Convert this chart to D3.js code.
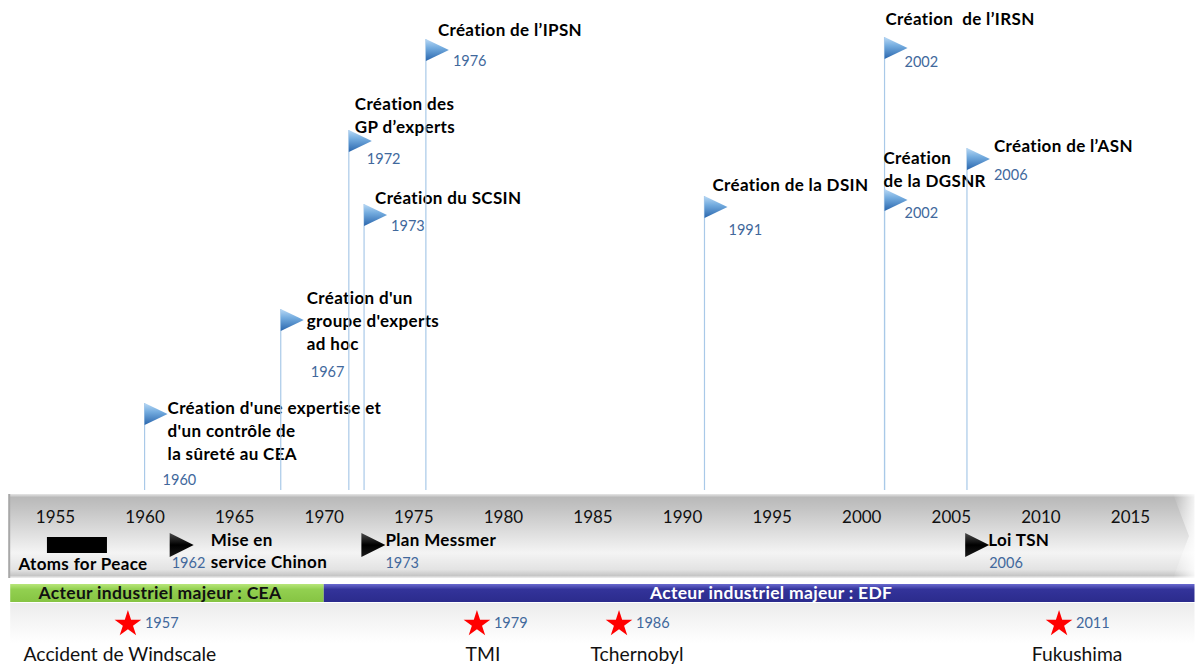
<!DOCTYPE html>
<html>
<head>
<meta charset="utf-8">
<script src="https://cdn.jsdelivr.net/npm/d3@7"></script>
<style>
body { margin: 0; background: #fff; }
text { font-family: Lato, "Open Sans", sans-serif; }
.lbl { font-size: 17px; font-weight: bold; letter-spacing: 0.35px; fill: #000; white-space: pre; }
.yr { font-size: 14.5px; fill: #41689c; }
</style>
</head>
<body>
<div id="chart"></div>
<script>
// ---- data ----
var tickYears = [1955, 1960, 1965, 1970, 1975, 1980, 1985, 1990, 1995, 2000, 2005, 2010, 2015];

// regulatory milestones (blue flags above the timeline)
var flagLabels = [
    ["Création d'une expertise et", "d'un contrôle de", "la sûreté au CEA"],
    ["Création d'un", "groupe d'experts", "ad hoc"],
    ["Création des", "GP d’experts"],
    ["Création du SCSIN"],
    ["Création de l’IPSN"],
    ["Création de la DSIN"],
    ["Création  de l’IRSN"],
    ["Création", "de la DGSNR"],
    ["Création de l’ASN"]
];
var flagYears = ["1960", "1967", "1972", "1973", "1976", "1991", "2002", "2002", "2006"];
// where the pole stands on the time scale
var flagAt = [1960, 1967.6, 1971.4, 1972.25, 1975.7, 1991.25, 2001.3, 2001.3, 2005.9];

// industrial milestones (black arrows inside the bar)
var keyLabels = [["Mise en", "service Chinon"], ["Plan Messmer"], ["Loi TSN"]];
var keyYears = ["1962", "1973", "2006"];
var keyAt = [1961.4, 1972.1, 2005.8];

var peaceLabel = "Atoms for Peace";
var peaceSpan = [1954.55, 1957.9];

var periodLabels = ["Acteur industriel majeur : CEA", "Acteur industriel majeur : EDF"];
var periodSpans = [[1952.5, 1970], [1970, 2018.6]];

var accidentLabels = ["Accident de Windscale", "TMI", "Tchernobyl", "Fukushima"];
var accidentYears = ["1957", "1979", "1986", "2011"];
var accidentAt = [1959.07, 1978.55, 1986.48, 2011.04];

// ---- layout ----
var width = 1195;
var height = 664;
var barTop = 494, barBottom = 578;
var poleBottom = 490;
// flag top, text offset/first line, year offset/line
var flagLayout = [
    {top: 403, tdx: 23, ty: 408, ydx: 18, yy: 480},
    {top: 309, tdx: 26, ty: 298, ydx: 30, yy: 372},
    {top: 130, tdx: 6,  ty: 104, ydx: 18, yy: 159},
    {top: 204, tdx: 11, ty: 198, ydx: 27, yy: 226},
    {top: 39,  tdx: 12, ty: 30,  ydx: 27, yy: 61},
    {top: 196, tdx: 8,  ty: 185, ydx: 24, yy: 230},
    {top: 37,  tdx: 1,  ty: 19,  ydx: 20, yy: 62},
    {top: 189, tdx: -1, ty: 158, ydx: 20, yy: 213},
    {top: 148, tdx: 27, ty: 146, ydx: 27, yy: 175}
];
var keyLayout = [
    {tdx: 41, ydx: 2},
    {tdx: 24, ydx: 24},
    {tdx: 23, ydx: 24}
];
var accidentLayout = [-8, 6, 18, 18];

var x = d3.scaleLinear()
    .domain([1955, 2015])
    .range([55, 1130]);

var svg = d3.select("#chart")
    .append("svg")
    .attr("width", width)
    .attr("height", height);

var defs = svg.append("defs");

function vgrad(id, stops) {
    var g = defs.append("linearGradient")
        .attr("id", id)
        .attr("x1", 0).attr("y1", 0)
        .attr("x2", 0).attr("y2", 1);
    stops.forEach(function(s) {
        g.append("stop").attr("offset", s[0]).attr("stop-color", s[1]);
    });
}
vgrad("greyBar", [[0, "#e6e6e6"], [0.04, "#b9b9b9"], [0.2, "#c6c6c6"], [0.7, "#f4f4f4"], [0.9, "#e3e3e3"], [0.97, "#c6c6c6"], [1, "#f0f0f0"]]);
vgrad("flagFill", [[0, "#b9d9f5"], [0.4, "#74acdf"], [1, "#2a66ad"]]);
vgrad("arrowFill", [[0, "#4a4a4a"], [0.5, "#000"], [1, "#1a1a1a"]]);
vgrad("greenFill", [[0, "#b8e67a"], [0.3, "#92d050"], [1, "#86c443"]]);
vgrad("blueFill", [[0, "#6a6ad0"], [0.3, "#33339a"], [1, "#2b2b8c"]]);
vgrad("shadowFill", [[0, "#ececec"], [1, "#ffffff"]]);

var capGrad = defs.append("linearGradient")
    .attr("id", "capFill")
    .attr("x1", 0).attr("y1", 0).attr("x2", 1).attr("y2", 0);
capGrad.append("stop").attr("offset", 0).attr("stop-color", "#fff").attr("stop-opacity", 0);
capGrad.append("stop").attr("offset", 1).attr("stop-color", "#fff").attr("stop-opacity", 0.85);

// ---- flag poles ----
var flags = svg.append("g")
    .selectAll("g")
    .data(flagYears)
    .enter()
    .append("g")
    .attr("transform", function(d, i) { return "translate(" + x(flagAt[i]) + ",0)"; });

flags.append("line")
    .attr("x1", 0).attr("x2", 0)
    .attr("y1", function(d, i) { return flagLayout[i].top; })
    .attr("y2", poleBottom)
    .attr("stroke", "#a9c9e8")
    .attr("stroke-width", 1.2);

flags.append("path")
    .attr("d", function(d, i) {
        var t = flagLayout[i].top;
        return "M0," + t + "L23," + (t + 11) + "L0," + (t + 22) + "Z";
    })
    .attr("fill", "url(#flagFill)");

flags.each(function(d, i) {
    var L = flagLayout[i];
    var t = d3.select(this).append("text")
        .attr("class", "lbl");
    flagLabels[i].forEach(function(s, j) {
        t.append("tspan")
            .attr("x", L.tdx)
            .attr("y", L.ty + j * 23)
            .attr("dy", "0.35em")
            .text(s);
    });
    d3.select(this).append("text")
        .attr("class", "yr")
        .attr("x", L.ydx)
        .attr("y", L.yy)
        .attr("dy", "0.35em")
        .text(d);
});

// ---- grey time bar ----
svg.append("rect")
    .attr("x", x(periodSpans[0][0]) - 1)
    .attr("y", barTop)
    .attr("width", x(periodSpans[1][1]) - x(periodSpans[0][0]) + 1)
    .attr("height", barBottom - barTop)
    .attr("fill", "url(#greyBar)");
svg.append("rect")
    .attr("x", x(periodSpans[0][0]) - 2)
    .attr("y", barTop)
    .attr("width", 2)
    .attr("height", barBottom - barTop)
    .attr("fill", "#a8a8a8");
svg.append("path")
    .attr("d", "M" + (width - 22) + "," + barTop + "L" + width + "," + barTop + "L" + width + "," + barBottom +
        "L" + (width - 22) + "," + barBottom + "L" + (width - 6) + "," + ((barTop + barBottom) / 2) + "Z")
    .attr("fill", "url(#capFill)");

var axis = d3.axisBottom(x)
    .tickValues(tickYears)
    .tickSize(0)
    .tickFormat(d3.format("d"));

var ax = svg.append("g")
    .attr("transform", "translate(0,517)")
    .call(axis);
ax.select(".domain").remove();
ax.selectAll("text")
    .attr("y", 0)
    .attr("dy", "0.35em")
    .attr("font-size", "17px")
    .attr("font-family", "Lato, sans-serif")
    .attr("fill", "#111");

// atoms for peace
svg.append("rect")
    .attr("x", x(peaceSpan[0]))
    .attr("y", 537)
    .attr("width", x(peaceSpan[1]) - x(peaceSpan[0]))
    .attr("height", 16)
    .attr("fill", "#000");
svg.append("text")
    .attr("class", "lbl")
    .attr("x", (x(peaceSpan[0]) + x(peaceSpan[1])) / 2 + 6)
    .attr("y", 564)
    .attr("dy", "0.35em")
    .attr("text-anchor", "middle")
    .text(peaceLabel);

// black arrows
var keys = svg.append("g")
    .selectAll("g")
    .data(keyYears)
    .enter()
    .append("g")
    .attr("transform", function(d, i) { return "translate(" + x(keyAt[i]) + ",0)"; });

keys.append("path")
    .attr("d", "M0,533L24,545L0,557Z")
    .attr("fill", "url(#arrowFill)");

keys.each(function(d, i) {
    var L = keyLayout[i];
    var t = d3.select(this).append("text")
        .attr("class", "lbl");
    keyLabels[i].forEach(function(s, j) {
        t.append("tspan")
            .attr("x", L.tdx)
            .attr("y", 540 + j * 22)
            .attr("dy", "0.35em")
            .text(s);
    });
    d3.select(this).append("text")
        .attr("class", "yr")
        .attr("x", L.ydx)
        .attr("y", 563)
        .attr("dy", "0.35em")
        .text(d);
});

// ---- industrial periods ----
svg.append("rect")
    .attr("x", x(periodSpans[0][0]))
    .attr("y", 603)
    .attr("width", x(periodSpans[1][1]) - x(periodSpans[0][0]))
    .attr("height", 40)
    .attr("fill", "url(#shadowFill)");

var periodFills = ["url(#greenFill)", "url(#blueFill)"];
var periodText = ["#111", "#fff"];
var periodShift = [-7, 12];
var periods = svg.append("g")
    .selectAll("g")
    .data(periodLabels)
    .enter()
    .append("g");

periods.append("rect")
    .attr("x", function(d, i) { return x(periodSpans[i][0]); })
    .attr("y", 584)
    .attr("width", function(d, i) { return x(periodSpans[i][1]) - x(periodSpans[i][0]); })
    .attr("height", 18)
    .attr("fill", function(d, i) { return periodFills[i]; });

periods.append("text")
    .attr("x", function(d, i) { return (x(periodSpans[i][0]) + x(periodSpans[i][1])) / 2 + periodShift[i]; })
    .attr("y", 593)
    .attr("dy", "0.35em")
    .attr("text-anchor", "middle")
    .attr("font-size", "17.5px")
    .attr("font-weight", "bold")
    .attr("letter-spacing", "0.3px")
    .attr("fill", function(d, i) { return periodText[i]; })
    .text(function(d) { return d; });

// ---- accidents ----
var star = d3.symbol().type(d3.symbolStar).size(220);
var acc = svg.append("g")
    .selectAll("g")
    .data(accidentLabels)
    .enter()
    .append("g")
    .attr("transform", function(d, i) { return "translate(" + x(accidentAt[i]) + ",0)"; });

acc.append("path")
    .attr("d", star)
    .attr("transform", "translate(0,624)")
    .attr("fill", "#ff0000");

acc.append("text")
    .attr("class", "yr")
    .attr("x", 17)
    .attr("y", 623)
    .attr("dy", "0.35em")
    .text(function(d, i) { return accidentYears[i]; });

acc.append("text")
    .attr("x", function(d, i) { return accidentLayout[i]; })
    .attr("y", 654)
    .attr("dy", "0.35em")
    .attr("text-anchor", "middle")
    .attr("font-family", "'Liberation Sans', Arial, sans-serif")
    .attr("font-size", "19.3px")
    .attr("fill", "#111")
    .text(function(d) { return d; });
</script>
</body>
</html>
